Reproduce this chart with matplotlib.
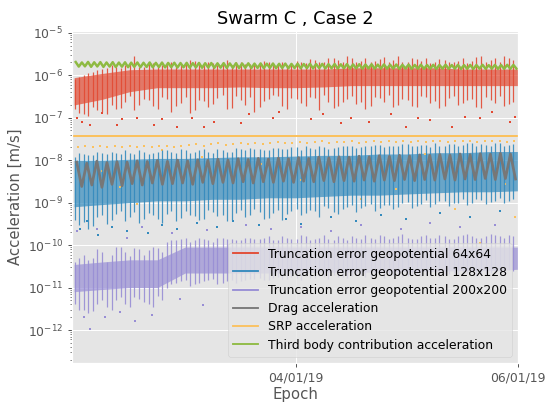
import numpy as np
import matplotlib
matplotlib.use('Agg')
import matplotlib.pyplot as plt
import matplotlib.dates as mdates
from matplotlib.lines import Line2D
from matplotlib.ticker import NullFormatter, FixedLocator, LogLocator
from datetime import datetime

plt.style.use('ggplot')

# ---------------- data ----------------
start = datetime(2019, 1, 2)
n_days = 4.0
tick_dates = [datetime(2019, 1, 4), datetime(2019, 1, 6)]
y_ticks = [1e-12, 1e-11, 1e-10, 1e-9, 1e-8, 1e-7, 1e-6, 1e-5]

labels = ['Truncation error geopotential 64x64',
          'Truncation error geopotential 128x128',
          'Truncation error geopotential 200x200',
          'Drag acceleration',
          'SRP acceleration',
          'Third body contribution acceleration']

# dense core of the scatter clouds, every 6 h
core_days = np.linspace(0, n_days, 17)
red_core_hi = [8.8e-7, 1.1e-6, 1.35e-6, 1.4e-6, 1.4e-6, 1.4e-6, 1.4e-6, 1.4e-6, 1.4e-6,
               1.4e-6, 1.5e-6, 1.5e-6, 1.5e-6, 1.5e-6, 1.4e-6, 1.4e-6, 1.4e-6]
red_core_lo = [2.0e-7, 2.7e-7, 4.1e-7, 5.1e-7, 5.1e-7, 5.1e-7, 5.3e-7, 5.1e-7, 5.1e-7,
               5.3e-7, 5.7e-7, 5.7e-7, 5.7e-7, 5.7e-7, 5.7e-7, 5.7e-7, 5.7e-7]
blue_core_hi = [1.0e-8, 1.0e-8, 1.05e-8, 1.1e-8, 1.1e-8, 1.15e-8, 1.2e-8, 1.2e-8, 1.25e-8,
                1.3e-8, 1.3e-8, 1.4e-8, 1.4e-8, 1.5e-8, 1.5e-8, 1.6e-8, 1.6e-8]
blue_core_lo = [8e-10, 9e-10, 1.0e-9, 1.1e-9, 1.1e-9, 1.2e-9, 1.2e-9, 1.3e-9, 1.3e-9,
                1.4e-9, 1.5e-9, 1.5e-9, 1.6e-9, 1.7e-9, 1.8e-9, 1.8e-9, 1.9e-9]
purple_core_hi = [3.5e-11, 4e-11, 4.5e-11, 4.5e-11, 9e-11, 9e-11, 9e-11, 9e-11, 9e-11,
                  9e-11, 9e-11, 9e-11, 9e-11, 9e-11, 9e-11, 9e-11, 9e-11]
purple_core_lo = [8e-12, 9e-12, 1e-11, 1e-11, 2.2e-11, 2.2e-11, 2.2e-11, 2.2e-11, 2.2e-11,
                  2.3e-11, 2.3e-11, 2.3e-11, 2.4e-11, 2.4e-11, 2.5e-11, 2.5e-11, 2.7e-11]
srp_level = [3.8e-8] * 17

# vertical streaks of the clouds, two interleaved sets every 2 h
streak_days = (np.arange(48) + 0.5) * n_days / 48
streak2_days = (np.arange(48) + 0.05) * n_days / 48
red_streak_lo = [1.3e-7, 1.1e-7, 1.5e-7, 1.2e-7, 1.6e-7, 2.4e-7, 1.5e-7, 2.8e-7, 1.9e-7, 3.0e-7,
                 1.4e-7, 2.2e-7, 1.3e-7, 2.6e-7, 1.8e-7, 2.9e-7, 1.6e-7, 3.3e-7, 2.0e-7, 1.4e-7,
                 2.5e-7, 3.4e-7, 1.9e-7, 2.9e-7, 2.2e-7, 3.1e-7, 1.5e-7, 2.4e-7, 1.9e-7, 2.8e-7,
                 2.1e-7, 1.6e-7, 3.0e-7, 2.3e-7, 1.8e-7, 2.7e-7, 1.9e-7, 3.2e-7, 2.2e-7, 1.7e-7,
                 2.9e-7, 2.0e-7, 2.6e-7, 1.8e-7, 3.1e-7, 2.2e-7, 1.9e-7, 2.4e-7]
red_streak_hi = [9e-7, 1.1e-6, 1.3e-6, 1.5e-6, 1.6e-6, 1.7e-6, 2.9e-6, 1.6e-6, 1.9e-6, 1.7e-6,
                 2.1e-6, 1.7e-6, 2.3e-6, 1.8e-6, 2.0e-6, 1.7e-6, 2.3e-6, 2.0e-6, 1.8e-6, 1.9e-6,
                 2.2e-6, 1.7e-6, 2.0e-6, 1.9e-6, 2.0e-6, 2.4e-6, 2.0e-6, 2.6e-6, 2.3e-6, 2.8e-6,
                 2.1e-6, 2.5e-6, 2.2e-6, 2.7e-6, 2.3e-6, 2.0e-6, 2.6e-6, 2.2e-6, 1.9e-6, 2.4e-6,
                 2.0e-6, 2.2e-6, 1.9e-6, 2.7e-6, 2.1e-6, 2.5e-6, 2.9e-6, 2.3e-6]
red_streak2_lo = [1.6e-7, 1.2e-7, 1.8e-7, 1.4e-7, 2.0e-7, 1.7e-7, 3.2e-7, 2.0e-7, 2.6e-7, 1.6e-7,
                  2.8e-7, 1.9e-7, 3.1e-7, 1.5e-7, 2.5e-7, 2.1e-7, 3.4e-7, 1.7e-7, 2.6e-7, 3.0e-7,
                  1.8e-7, 2.7e-7, 3.3e-7, 1.6e-7, 2.8e-7, 1.9e-7, 2.9e-7, 3.5e-7, 1.7e-7, 2.3e-7,
                  3.2e-7, 2.4e-7, 1.9e-7, 2.9e-7, 3.4e-7, 2.0e-7, 2.6e-7, 1.8e-7, 3.0e-7, 2.5e-7,
                  1.9e-7, 3.2e-7, 2.2e-7, 2.8e-7, 1.7e-7, 2.6e-7, 3.3e-7, 2.1e-7]
red_streak2_hi = [8e-7, 1.0e-6, 1.2e-6, 1.4e-6, 1.7e-6, 1.5e-6, 1.8e-6, 1.6e-6, 2.0e-6, 1.6e-6,
                  1.8e-6, 1.6e-6, 1.9e-6, 2.2e-6, 1.7e-6, 1.9e-6, 1.8e-6, 1.7e-6, 2.1e-6, 1.8e-6,
                  1.9e-6, 2.1e-6, 1.8e-6, 1.7e-6, 2.2e-6, 1.9e-6, 2.3e-6, 2.1e-6, 2.5e-6, 2.0e-6,
                  2.6e-6, 2.2e-6, 2.0e-6, 2.4e-6, 2.1e-6, 2.8e-6, 2.1e-6, 2.4e-6, 2.6e-6, 2.1e-6,
                  2.3e-6, 2.0e-6, 2.5e-6, 2.2e-6, 2.9e-6, 2.3e-6, 2.1e-6, 2.6e-6]
blue_streak_lo = [3.0e-10, 2.4e-10, 4.5e-10, 3.2e-10, 5.5e-10, 3.6e-10, 6.0e-10, 4.2e-10, 5.0e-10, 3.4e-10,
                  6.5e-10, 4.4e-10, 5.2e-10, 3.8e-10, 6.8e-10, 4.8e-10, 3.6e-10, 5.6e-10, 4.5e-10, 7.0e-10,
                  4.2e-10, 5.8e-10, 3.9e-10, 6.2e-10, 5.0e-10, 6.8e-10, 4.6e-10, 7.5e-10, 5.5e-10, 8.0e-10,
                  6.0e-10, 8.5e-10, 6.5e-10, 9.0e-10, 7.0e-10, 1.0e-9, 7.5e-10, 9.5e-10, 8.0e-10, 1.1e-9,
                  8.5e-10, 1.0e-9, 9.0e-10, 1.2e-9, 9.5e-10, 1.1e-9, 1.0e-9, 1.2e-9]
blue_streak_hi = [1.5e-8, 1.3e-8, 1.6e-8, 1.4e-8, 1.5e-8, 1.7e-8, 1.4e-8, 1.6e-8, 1.5e-8, 1.7e-8,
                  1.6e-8, 1.8e-8, 1.5e-8, 1.7e-8, 1.6e-8, 1.8e-8, 1.6e-8, 1.9e-8, 1.7e-8, 1.8e-8,
                  1.7e-8, 1.9e-8, 1.8e-8, 2.0e-8, 1.7e-8, 1.9e-8, 2.1e-8, 1.8e-8, 2.0e-8, 2.2e-8,
                  1.9e-8, 2.1e-8, 2.3e-8, 2.0e-8, 2.2e-8, 2.4e-8, 2.1e-8, 2.3e-8, 2.0e-8, 2.2e-8,
                  2.4e-8, 2.1e-8, 2.5e-8, 2.2e-8, 2.3e-8, 2.6e-8, 2.2e-8, 2.4e-8]
blue_streak2_lo = [4.0e-10, 3.5e-10, 2.8e-10, 5.0e-10, 3.8e-10, 6.2e-10, 4.5e-10, 3.3e-10, 5.8e-10, 4.2e-10,
                   5.5e-10, 3.7e-10, 6.4e-10, 4.9e-10, 4.1e-10, 6.0e-10, 5.2e-10, 4.0e-10, 6.6e-10, 5.1e-10,
                   6.1e-10, 4.4e-10, 6.8e-10, 5.3e-10, 7.2e-10, 5.6e-10, 6.3e-10, 8.2e-10, 6.0e-10, 7.0e-10,
                   8.8e-10, 7.3e-10, 9.4e-10, 7.6e-10, 8.9e-10, 8.1e-10, 1.05e-9, 8.4e-10, 1.15e-9, 9.2e-10,
                   1.1e-9, 9.6e-10, 1.2e-9, 1.0e-9, 1.15e-9, 1.05e-9, 1.3e-9, 1.1e-9]
blue_streak2_hi = [1.2e-8, 1.4e-8, 1.3e-8, 1.5e-8, 1.6e-8, 1.4e-8, 1.5e-8, 1.7e-8, 1.4e-8, 1.6e-8,
                   1.7e-8, 1.5e-8, 1.7e-8, 1.6e-8, 1.8e-8, 1.5e-8, 1.7e-8, 1.6e-8, 1.8e-8, 1.9e-8,
                   1.8e-8, 1.7e-8, 1.9e-8, 1.8e-8, 2.0e-8, 2.1e-8, 1.8e-8, 2.0e-8, 1.9e-8, 2.1e-8,
                   2.2e-8, 2.0e-8, 2.1e-8, 2.3e-8, 2.1e-8, 2.2e-8, 2.4e-8, 2.2e-8, 2.3e-8, 2.5e-8,
                   2.2e-8, 2.4e-8, 2.3e-8, 2.6e-8, 2.4e-8, 2.2e-8, 2.5e-8, 2.3e-8]
purple_streak_lo = [3e-12, 2.5e-12, 4e-12, 3.5e-12, 5e-12, 4e-12, 6e-12, 4.5e-12, 3.5e-12, 5e-12,
                    1.2e-11, 1.4e-11, 1.1e-11, 1.3e-11, 1.5e-11, 1.2e-11, 1.4e-11, 1.3e-11, 1.5e-11, 1.6e-11,
                    1.5e-11, 1.7e-11, 1.6e-11, 1.8e-11, 1.5e-11, 1.7e-11, 1.9e-11, 1.6e-11, 1.8e-11, 1.7e-11,
                    2.0e-11, 1.8e-11, 1.9e-11, 1.7e-11, 2.0e-11, 1.8e-11, 2.1e-11, 1.9e-11, 2.0e-11, 1.8e-11,
                    2.1e-11, 2.0e-11, 2.2e-11, 1.9e-11, 2.1e-11, 2.3e-11, 2.2e-11, 2.5e-11]
purple_streak_hi = [5e-11, 4.5e-11, 8e-11, 4e-11, 9e-11, 7e-11, 8.5e-11, 6e-11, 9e-11, 7e-11,
                    1.3e-10, 1.4e-10, 1.2e-10, 1.5e-10, 1.3e-10, 1.5e-10, 1.4e-10, 1.3e-10, 1.5e-10, 1.4e-10,
                    1.5e-10, 1.3e-10, 1.6e-10, 1.4e-10, 1.7e-10, 1.3e-10, 1.5e-10, 1.4e-10, 1.6e-10, 1.3e-10,
                    1.5e-10, 1.7e-10, 1.4e-10, 1.6e-10, 1.5e-10, 1.8e-10, 1.4e-10, 1.6e-10, 1.5e-10, 1.7e-10,
                    1.4e-10, 1.6e-10, 1.8e-10, 1.5e-10, 1.6e-10, 1.7e-10, 1.5e-10, 1.6e-10]
purple_streak2_lo = [4e-12, 3e-12, 2.8e-12, 5e-12, 3e-12, 6e-12, 3.5e-12, 5.5e-12, 4e-12, 6.5e-12,
                     1.0e-11, 1.3e-11, 1.5e-11, 1.2e-11, 1.4e-11, 1.6e-11, 1.3e-11, 1.5e-11, 1.4e-11, 1.6e-11,
                     1.7e-11, 1.5e-11, 1.8e-11, 1.6e-11, 1.7e-11, 1.9e-11, 1.7e-11, 1.8e-11, 2.0e-11, 1.8e-11,
                     1.9e-11, 2.0e-11, 1.8e-11, 2.1e-11, 1.9e-11, 2.0e-11, 1.9e-11, 2.2e-11, 2.0e-11, 2.1e-11,
                     2.0e-11, 2.2e-11, 2.1e-11, 2.3e-11, 2.0e-11, 2.2e-11, 2.4e-11, 2.6e-11]
purple_streak2_hi = [4e-11, 6e-11, 5e-11, 7e-11, 6e-11, 9e-11, 5.5e-11, 8e-11, 7.5e-11, 8.5e-11,
                     1.2e-10, 1.3e-10, 1.5e-10, 1.3e-10, 1.4e-10, 1.2e-10, 1.5e-10, 1.4e-10, 1.3e-10, 1.5e-10,
                     1.4e-10, 1.6e-10, 1.3e-10, 1.5e-10, 1.4e-10, 1.6e-10, 1.4e-10, 1.7e-10, 1.3e-10, 1.5e-10,
                     1.6e-10, 1.4e-10, 1.5e-10, 1.7e-10, 1.4e-10, 1.6e-10, 1.5e-10, 1.4e-10, 1.7e-10, 1.5e-10,
                     1.6e-10, 1.4e-10, 1.7e-10, 1.6e-10, 1.5e-10, 1.8e-10, 1.6e-10, 1.7e-10]

# isolated outlier points (day, value)
red_out_days = [0.027, 0.072, 0.143, 0.251, 0.386, 0.43, 0.565, 0.717, 0.789, 0.924, 1.058,
                1.166, 1.256, 1.507, 1.578, 1.794, 1.848, 2.135, 2.242, 2.404, 2.493, 2.655,
                2.852, 2.987, 3.103, 3.211, 3.408, 3.525, 3.659, 3.767, 3.928, 3.973]
red_out_vals = [1.0e-7, 8.1e-8, 6.9e-8, 1.3e-7, 6.9e-8, 9.1e-8, 1.0e-7, 6.9e-8, 9.1e-8, 6.2e-8, 1.0e-7,
                5.9e-8, 8.1e-8, 7.7e-8, 1.2e-7, 1.0e-7, 1.4e-7, 9.1e-8, 1.2e-7, 7.7e-8, 1.0e-7, 8.1e-8,
                1.25e-7, 5.9e-8, 1.0e-7, 8.6e-8, 6.2e-8, 1.05e-7, 9.6e-8, 1.4e-7, 8.1e-8, 1.05e-7]
blue_out_days = [0.054, 0.117, 0.215, 0.341, 0.475, 0.664, 0.789, 0.924, 1.103, 1.283, 1.435,
                 1.668, 1.91, 2.045, 2.314, 2.538, 2.762, 2.987, 3.3, 3.57, 3.839]
blue_out_vals = [2.4e-10, 3.7e-10, 1.7e-10, 2.65e-10, 2.1e-10, 1.9e-10, 2.95e-10, 2.4e-10, 3.3e-10,
                 2.65e-10, 3.7e-10, 2.95e-10, 4.1e-10, 3.1e-10, 4.5e-10, 3.7e-10, 5.1e-10, 4.1e-10,
                 5.6e-10, 4.5e-10, 6.3e-10]
purple_out_days = [0.09, 0.143, 0.278, 0.413, 0.547, 0.700, 0.951, 1.157,
                   0.027, 0.206, 0.475, 0.61, 0.879, 1.193, 1.552, 1.776, 2.045, 2.314,
                   2.583, 2.942, 3.211, 3.48, 3.794]
purple_out_vals = [2.0e-12, 1.07e-12, 2.0e-12, 2.7e-12, 1.65e-12, 2.2e-12, 5.4e-12, 3.9e-12,
                   2.1e-10, 2.4e-10, 1.5e-10, 2.65e-10, 1.9e-10, 2.25e-10, 2.95e-10, 2.4e-10,
                   2.65e-10, 2.1e-10, 2.95e-10, 2.4e-10, 3.3e-10, 2.65e-10, 2.95e-10]

# drag: one peak and one trough per oscillation
drag_peak = [9.0e-9, 8.5e-9, 9.5e-9, 8.8e-9, 9.2e-9, 9.0e-9, 9.6e-9, 9.3e-9, 9.8e-9, 9.4e-9,
             1.0e-8, 9.6e-9, 1.02e-8, 9.9e-9, 1.05e-8, 1.0e-8, 1.08e-8, 1.04e-8, 1.1e-8, 1.06e-8,
             1.12e-8, 1.08e-8, 1.15e-8, 1.1e-8, 1.18e-8, 1.14e-8, 1.2e-8, 1.17e-8, 1.24e-8, 1.2e-8,
             1.27e-8, 1.23e-8, 1.3e-8, 1.26e-8, 1.33e-8, 1.3e-8, 1.36e-8, 1.32e-8, 1.4e-8, 1.35e-8,
             1.42e-8, 1.38e-8, 1.45e-8, 1.4e-8]
drag_trough = [2.4e-9, 2.6e-9, 2.3e-9, 2.7e-9, 2.5e-9, 2.8e-9, 2.6e-9, 2.9e-9, 2.7e-9, 2.8e-9,
               2.9e-9, 2.7e-9, 3.0e-9, 2.8e-9, 3.0e-9, 2.9e-9, 3.1e-9, 2.9e-9, 3.1e-9, 3.0e-9,
               3.2e-9, 3.0e-9, 3.2e-9, 3.1e-9, 3.3e-9, 3.1e-9, 3.3e-9, 3.2e-9, 3.4e-9, 3.2e-9,
               3.4e-9, 3.3e-9, 3.5e-9, 3.3e-9, 3.5e-9, 3.4e-9, 3.6e-9, 3.4e-9, 3.6e-9, 3.5e-9,
               3.7e-9, 3.5e-9, 3.7e-9, 3.6e-9]

# third body: one peak and one trough per oscillation (x1e-6)
third_peak = [2.05, 2.0, 2.06, 2.02, 2.04, 2.0, 2.03, 1.99, 2.02, 1.98,
              2.0, 1.97, 2.0, 1.96, 1.99, 1.95, 1.97, 1.94, 1.96, 1.93,
              1.95, 1.92, 1.94, 1.91, 1.93, 1.9, 1.92, 1.89, 1.91, 1.88,
              1.9, 1.87, 1.89, 1.86, 1.88, 1.85, 1.87, 1.84, 1.86, 1.83,
              1.85, 1.82, 1.84, 1.81, 1.83, 1.8, 1.82, 1.79, 1.81, 1.78,
              1.8, 1.77, 1.79, 1.76, 1.78, 1.75, 1.77, 1.74, 1.76, 1.75,
              1.77, 1.74, 1.76, 1.73, 1.75, 1.74, 1.76, 1.73, 1.75, 1.74,
              1.76, 1.75]
third_trough = [1.6, 1.62, 1.58, 1.61, 1.57, 1.6, 1.56, 1.59, 1.55, 1.58,
                1.55, 1.57, 1.54, 1.56, 1.53, 1.55, 1.52, 1.54, 1.51, 1.53,
                1.5, 1.52, 1.5, 1.51, 1.49, 1.5, 1.48, 1.5, 1.48, 1.49,
                1.47, 1.49, 1.47, 1.48, 1.46, 1.48, 1.46, 1.47, 1.45, 1.47,
                1.45, 1.46, 1.44, 1.46, 1.44, 1.45, 1.43, 1.45, 1.43, 1.44,
                1.43, 1.44, 1.42, 1.44, 1.42, 1.43, 1.42, 1.43, 1.41, 1.43,
                1.42, 1.43, 1.41, 1.42, 1.41, 1.43, 1.42, 1.43, 1.41, 1.42,
                1.42, 1.43]

# SRP dips during eclipse passes
srp_dip = [2.0e-8, 2.1e-8, 2.0e-8, 2.2e-8, 2.0e-8, 2.1e-8, 2.0e-8, 2.2e-8, 2.0e-8, 2.1e-8,
           2.0e-8, 2.2e-8, 2.1e-8, 2.0e-8, 2.2e-8, 2.3e-8, 2.4e-8, 2.2e-8, 2.35e-8, 2.5e-8,
           2.3e-8, 2.4e-8, 2.6e-8, 2.35e-8, 2.5e-8, 2.4e-8, 2.6e-8, 2.7e-8, 2.5e-8, 2.6e-8,
           2.75e-8, 2.6e-8, 2.7e-8, 2.8e-8, 2.6e-8, 2.75e-8, 2.7e-8, 2.85e-8, 2.6e-8, 2.75e-8,
           2.8e-8, 2.7e-8, 2.9e-8, 2.75e-8, 2.8e-8, 2.7e-8, 2.85e-8, 2.75e-8, 2.9e-8, 2.8e-8,
           2.7e-8, 2.85e-8, 2.8e-8, 2.9e-8, 2.75e-8, 2.8e-8, 2.9e-8, 2.85e-8, 2.75e-8, 2.8e-8]
srp_out_days = [0.251, 0.413, 0.565, 0.789, 1.148, 1.686, 2.045, 2.314, 2.583, 2.897, 3.166,
                3.435, 3.659, 3.883, 3.973]
srp_out_vals = [5.5e-9, 2.3e-9, 9.5e-10, 1.7e-8, 1.2e-8, 8e-9, 3.5e-9, 6.1e-9, 1.2e-9, 2.1e-9,
                1.4e-8, 7.1e-10, 1.1e-10, 2.7e-9, 4.6e-10]

colors = ['#E24A33', '#348ABD', '#988ED5', '#777777', '#FBC15E', '#8EBA42']

# ---------------- plot ----------------
t0 = mdates.date2num(start)


def dates(days):
    return t0 + np.asarray(days)


def zigzag(peaks, troughs):
    n = len(peaks)
    days = np.empty(2 * n)
    days[0::2] = (np.arange(n) + 0.25) * n_days / n
    days[1::2] = (np.arange(n) + 0.75) * n_days / n
    vals = np.empty(2 * n)
    vals[0::2] = peaks
    vals[1::2] = troughs
    return dates(days), vals


DPI = 89
fig = plt.figure(figsize=(545 / DPI, 403 / DPI), dpi=DPI)
ax = fig.add_axes([0.132, 0.100, 0.8185, 0.823])

clouds = [(red_core_lo, red_core_hi, red_streak_lo, red_streak_hi, red_streak2_lo, red_streak2_hi,
           red_out_days, red_out_vals),
          (blue_core_lo, blue_core_hi, blue_streak_lo, blue_streak_hi, blue_streak2_lo, blue_streak2_hi,
           blue_out_days, blue_out_vals),
          (purple_core_lo, purple_core_hi, purple_streak_lo, purple_streak_hi,
           purple_streak2_lo, purple_streak2_hi, purple_out_days, purple_out_vals)]

for c, (clo, chi, slo, shi, slo2, shi2, od, ov) in zip(colors[:3], clouds):
    ax.fill_between(dates(core_days), clo, chi, color=c, alpha=0.7, lw=0)
    ax.vlines(dates(streak_days), slo, shi, color=c, lw=1.0, alpha=0.9)
    ax.vlines(dates(streak2_days), slo2, shi2, color=c, lw=1.0, alpha=0.9)
    ax.scatter(dates(od), ov, s=2.5, marker='s', color=c, lw=0)

x, y = zigzag(drag_peak, drag_trough)
ax.plot(x, y, color=colors[3], lw=2.2)

ax.plot(dates(core_days), srp_level, color=colors[4], lw=1.6)
dip_days = (np.arange(len(srp_dip)) + 0.5) * n_days / len(srp_dip)
ax.scatter(dates(dip_days), srp_dip, s=2.5, marker='s', color=colors[4], lw=0)
ax.scatter(dates(srp_out_days), srp_out_vals, s=2.5, marker='s', color=colors[4], lw=0)

x, y = zigzag(third_peak, third_trough)
ax.plot(x, y * 1e-6, color=colors[5], lw=2.0)

ax.set_yscale('log')
ax.set_ylim(1.7e-13, 1.1e-5)
ax.yaxis.set_major_locator(FixedLocator(y_ticks))
ax.yaxis.set_minor_locator(LogLocator(base=10, subs=np.arange(2, 10) * 0.1, numticks=30))
ax.yaxis.set_minor_formatter(NullFormatter())
ax.set_xlim(t0 - 0.02, t0 + n_days)
ax.set_xticks(mdates.date2num(tick_dates))
ax.xaxis.set_major_formatter(mdates.DateFormatter('%d/%m/%y'))

ax.set_title('Swarm C , Case 2')
ax.set_xlabel('Epoch', labelpad=2)
ax.set_ylabel('Acceleration [m/s]')

handles = [Line2D([], [], color=c, lw=1.5) for c in colors]
ax.legend(handles, labels, loc='lower right', labelspacing=0.42)

fig.savefig('out.png', dpi=DPI)
